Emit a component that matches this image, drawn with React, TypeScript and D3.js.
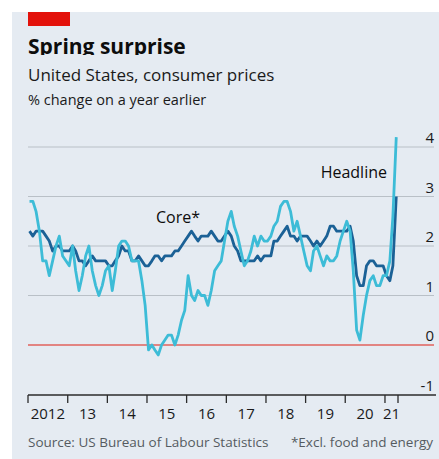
import React from "react";
import * as d3 from "d3";

const startYear = 2012;
const headline = [
  2.9, 2.9, 2.7, 2.3, 1.7, 1.7, 1.4, 1.7, 2.0, 2.2, 1.8, 1.7,
  1.6, 2.0, 1.5, 1.1, 1.4, 1.8, 2.0, 1.5, 1.2, 1.0, 1.2, 1.5,
  1.6, 1.1, 1.5, 2.0, 2.1, 2.1, 2.0, 1.7, 1.7, 1.7, 1.3, 0.8,
  -0.1, 0.0, -0.1, -0.2, 0.0, 0.1, 0.2, 0.2, 0.0, 0.2, 0.5, 0.7,
  1.4, 1.0, 0.9, 1.1, 1.0, 1.0, 0.8, 1.1, 1.5, 1.6, 1.7, 2.1,
  2.5, 2.7, 2.4, 2.2, 1.9, 1.6, 1.7, 1.9, 2.2, 2.0, 2.2, 2.1,
  2.1, 2.2, 2.4, 2.5, 2.8, 2.9, 2.9, 2.7, 2.3, 2.5, 2.2, 1.9,
  1.6, 1.5, 1.9, 2.0, 1.8, 1.6, 1.8, 1.7, 1.7, 1.8, 2.1, 2.3,
  2.5, 2.3, 1.5, 0.3, 0.1, 0.6, 1.0, 1.3, 1.4, 1.2, 1.2, 1.4,
  1.4, 1.7, 2.6, 4.2,
];
const core = [
  2.3, 2.2, 2.3, 2.3, 2.3, 2.2, 2.1, 1.9, 2.0, 2.0, 1.9, 1.9,
  1.9, 2.0, 1.9, 1.7, 1.7, 1.6, 1.7, 1.8, 1.7, 1.7, 1.7, 1.7,
  1.6, 1.6, 1.7, 1.8, 2.0, 1.9, 1.9, 1.7, 1.7, 1.8, 1.7, 1.6,
  1.6, 1.7, 1.8, 1.8, 1.7, 1.8, 1.8, 1.8, 1.9, 1.9, 2.0, 2.1,
  2.2, 2.3, 2.2, 2.1, 2.2, 2.2, 2.2, 2.3, 2.2, 2.1, 2.1, 2.2,
  2.3, 2.2, 2.0, 1.9, 1.7, 1.7, 1.7, 1.7, 1.7, 1.8, 1.7, 1.8,
  1.8, 1.8, 2.1, 2.1, 2.2, 2.3, 2.4, 2.2, 2.2, 2.1, 2.2, 2.2,
  2.2, 2.1, 2.0, 2.1, 2.0, 2.1, 2.2, 2.4, 2.4, 2.3, 2.3, 2.3,
  2.3, 2.4, 2.1, 1.4, 1.2, 1.2, 1.6, 1.7, 1.7, 1.6, 1.6, 1.6,
  1.4, 1.3, 1.6, 3.0,
];
const yTicks = [-1, 0, 1, 2, 3, 4];
const yearLabels = ["2012", "13", "14", "15", "16", "17", "18", "19", "20", "21"];

const W = 439;
const H = 459;
const FONT = "'Open Sans', 'Noto Sans', sans-serif";

export default function App() {
  const x = d3
    .scaleTime()
    .domain([new Date(2012, 0, 1), new Date(2021, 4, 1)])
    .range([28, 398]);
  const y = d3.scaleLinear().domain([-1, 4]).range([394.5, 147]);

  const dateOf = (i: number) =>
    new Date(startYear + Math.floor(i / 12), i % 12, 15);
  const line = d3
    .line<number>()
    .x((_, i) => x(dateOf(i)))
    .y((d) => y(d))
    .curve(d3.curveLinear);

  const tickDates = [
    ...d3.timeYear.range(new Date(2012, 0, 1), new Date(2021, 1, 1)),
    new Date(2021, 4, 1),
  ];
  const gridRight = 434;

  return (
    <svg
      width={W}
      height={H}
      style={{ position: "absolute", left: 0, top: 0, fontFamily: FONT }}
    >
      <defs>
        <clipPath id="titleClip">
          <rect x={0} y={0} width={W} height={55} />
        </clipPath>
      </defs>
      <rect x={0} y={0} width={W} height={H} fill="#ffffff" />
      <rect x={12} y={12} width={W - 12} height={H - 12} fill="#e5ebf2" />
      <rect x={28} y={12} width={42} height={14} fill="#e3120b" />
      <text
        x={28}
        y={54}
        fontSize={21}
        fontWeight={700}
        fill="#0d0d0d"
        clipPath="url(#titleClip)"
      >
        Spring surprise
      </text>
      <text x={28} y={81} fontSize={17} fill="#1a1a1a">
        United States, consumer prices
      </text>
      <text x={28} y={105} fontSize={14.5} fill="#1a1a1a">
        % change on a year earlier
      </text>

      {yTicks
        .filter((t) => t > -1)
        .map((t) => (
          <line
            key={t}
            x1={28}
            x2={gridRight}
            y1={y(t)}
            y2={y(t)}
            stroke={t === 0 ? "#e0625c" : "#b9c0c7"}
            strokeWidth={t === 0 ? 1.3 : 1}
          />
        ))}
      {yTicks.map((t) => (
        <text
          key={t}
          x={434}
          y={y(t) - 4}
          fontSize={15}
          textAnchor="end"
          fill="#1a1a1a"
        >
          {t}
        </text>
      ))}

      <path
        d={line(core) || ""}
        fill="none"
        stroke="#1b6196"
        strokeWidth={2.8}
        strokeLinejoin="round"
      />
      <path
        d={line(headline) || ""}
        fill="none"
        stroke="#3dbcd7"
        strokeWidth={2.8}
        strokeLinejoin="round"
      />

      <line
        x1={28}
        x2={436}
        y1={395}
        y2={395}
        stroke="#2b2b2b"
        strokeWidth={1.3}
      />
      {tickDates.map((d, i) => (
        <line
          key={i}
          x1={x(d)}
          x2={x(d)}
          y1={395}
          y2={403}
          stroke="#2b2b2b"
          strokeWidth={1.3}
        />
      ))}
      {yearLabels.map((lab, i) => {
        const a = x(tickDates[i]);
        const b = x(tickDates[i + 1]);
        return (
          <text
            key={lab}
            x={(a + b) / 2}
            y={419}
            fontSize={15}
            textAnchor="middle"
            fill="#1a1a1a"
          >
            {lab}
          </text>
        );
      })}

      <text x={156} y={223} fontSize={16} fill="#0d0d0d">
        Core*
      </text>
      <text x={387} y={178} fontSize={16} textAnchor="end" fill="#0d0d0d">
        Headline
      </text>

      <text x={28} y={447} fontSize={13.5} fill="#555b61">
        Source: US Bureau of Labour Statistics
      </text>
      <text x={433} y={447} fontSize={13.5} textAnchor="end" fill="#555b61">
        *Excl. food and energy
      </text>
    </svg>
  );
}
